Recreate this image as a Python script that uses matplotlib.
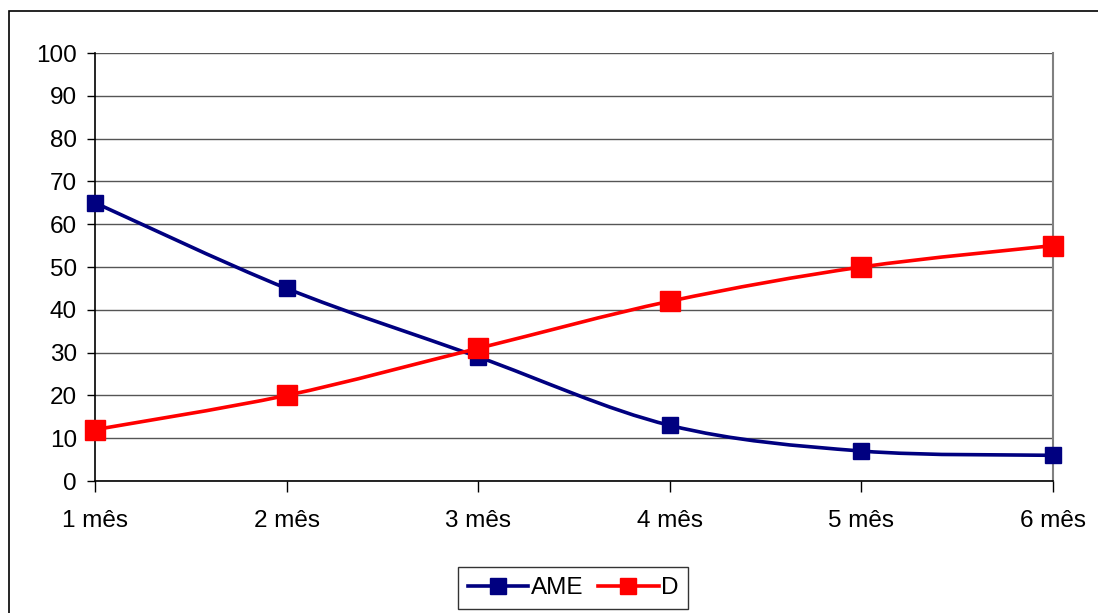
import numpy as np
import matplotlib.pyplot as plt
from matplotlib.path import Path
from matplotlib.patches import PathPatch, Rectangle
from matplotlib.lines import Line2D

plt.rcParams['font.family'] = ['Liberation Sans', 'DejaVu Sans']

meses = ['1 mês', '2 mês', '3 mês', '4 mês', '5 mês', '6 mês']
ame = [65, 45, 29, 13, 7, 6]
d = [12, 20, 31, 42, 50, 55]

fig = plt.figure(figsize=(10.98, 6.13), dpi=100)
ax = fig.add_axes([95/1098, 1-481/613, (1053-95)/1098, (481-53)/613])

# outer chart border
fig.patches.append(Rectangle((9/1098, -0.01), 1.1, 1-11/613+0.01, transform=fig.transFigure,
                             fill=False, edgecolor='black', linewidth=1.2))


def smooth_path(xs, ys):
    # bezier segments through the points, like a spreadsheet "smoothed line"
    xs = np.asarray(xs, float)
    ys = np.asarray(ys, float)
    n = len(xs)
    verts = [(xs[0], ys[0])]
    codes = [Path.MOVETO]
    for i in range(n - 1):
        p0 = i - 1 if i > 0 else i
        p3 = i + 2 if i + 2 < n else i + 1
        c1 = (xs[i] + (xs[i+1] - xs[p0]) / 6, ys[i] + (ys[i+1] - ys[p0]) / 6)
        c2 = (xs[i+1] - (xs[p3] - xs[i]) / 6, ys[i+1] - (ys[p3] - ys[i]) / 6)
        verts += [c1, c2, (xs[i+1], ys[i+1])]
        codes += [Path.CURVE4] * 3
    return Path(verts, codes)


x = np.arange(len(meses))
for vals, col, ms in [(ame, '#000080', 12), (d, '#ff0000', 14)]:
    ax.add_patch(PathPatch(smooth_path(x, vals), fill=False, edgecolor=col,
                           linewidth=2.6, zorder=3, clip_on=False))
    ax.plot(x, vals, linestyle='none', marker='s', markersize=ms, color=col,
            zorder=4, clip_on=False)

ax.set_xlim(0, 5)
ax.set_ylim(0, 100)
ax.set_yticks(range(0, 101, 10))
ax.set_xticks(x)
ax.set_xticklabels(meses)
ax.yaxis.grid(True, color='#555555', linewidth=1.0)
ax.set_axisbelow(True)
ax.tick_params(axis='both', labelsize=17.5, colors='black')
ax.tick_params(axis='y', length=6, width=1, pad=7)
ax.tick_params(axis='x', length=8, width=1, pad=13)
ax.spines['top'].set_visible(False)
ax.spines['right'].set_color('#808080')
ax.spines['right'].set_linewidth(1.5)
ax.spines['left'].set_linewidth(1.2)
ax.spines['bottom'].set_linewidth(1.2)

handles = [Line2D([], [], color='#000080', marker='s', markersize=11, linewidth=2.6),
           Line2D([], [], color='#ff0000', marker='s', markersize=12, linewidth=2.6)]
leg = fig.legend(handles, ['AME', 'D'], loc='center', bbox_to_anchor=(573/1098, 1-588/613),
                 ncol=2, fontsize=17.5, frameon=True, fancybox=False, edgecolor='black',
                 handlelength=2.5, handletextpad=0.1, columnspacing=0.6, borderpad=0.4,
                 borderaxespad=0)
leg.get_frame().set_linewidth(1.0)

fig.savefig('out.png', dpi=100)
